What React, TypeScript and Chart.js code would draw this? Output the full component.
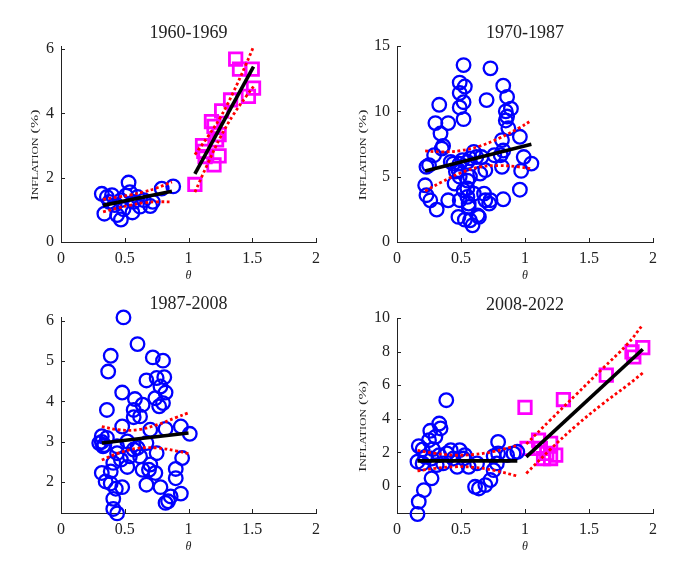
import { useEffect, useRef } from "react";
import { Chart, registerables } from "chart.js";

Chart.register(...registerables);

type Pt = [number, number];

const SERIF = "'Liberation Serif', 'DejaVu Serif', serif";
const INK = "#222222";

// theta axis, shared by all four panels
const thetaTicks = [0, 0.5, 1, 1.5, 2];

// 1960-1969
const p1Circles: Pt[] = [
  [0.32, 1.5], [0.34, 0.88], [0.36, 1.4], [0.38, 1.25], [0.4, 1.46], [0.42, 1.15],
  [0.44, 0.84], [0.47, 0.7], [0.47, 1.3], [0.49, 1.02], [0.51, 1.45], [0.53, 1.85],
  [0.54, 1.55], [0.56, 0.92], [0.57, 1.25], [0.6, 1.4], [0.62, 1.1], [0.65, 1.3],
  [0.7, 1.12], [0.72, 1.25], [0.79, 1.66], [0.88, 1.73],
];
const p1Squares: Pt[] = [
  [1.05, 1.79], [1.11, 3.0], [1.12, 2.82], [1.13, 2.66], [1.18, 3.75], [1.2, 3.6],
  [1.2, 2.4], [1.22, 3.18], [1.24, 3.34], [1.24, 2.68], [1.26, 4.08], [1.33, 4.42],
  [1.37, 5.69], [1.4, 5.38], [1.47, 4.53], [1.5, 5.38], [1.51, 4.79],
];
const p1FitLow: Pt[] = [[0.33, 1.14], [0.87, 1.58]];
const p1UpperLow: Pt[] = [[0.33, 1.33], [0.45, 1.4], [0.55, 1.47], [0.65, 1.56], [0.75, 1.68], [0.87, 1.87]];
const p1LowerLow: Pt[] = [[0.33, 0.94], [0.45, 1.06], [0.55, 1.15], [0.65, 1.22], [0.75, 1.25], [0.87, 1.25]];
const p1FitHigh: Pt[] = [[1.05, 2.12], [1.51, 5.46]];
const p1UpperHigh: Pt[] = [[1.05, 2.72], [1.15, 3.27], [1.25, 3.88], [1.35, 4.65], [1.45, 5.52], [1.51, 6.08]];
const p1LowerHigh: Pt[] = [[1.05, 1.55], [1.15, 2.43], [1.25, 3.26], [1.35, 3.95], [1.45, 4.52], [1.51, 4.84]];
const p1YTicks = [0, 2, 4, 6];

// 1970-1987
const p2Circles: Pt[] = [
  [0.52, 13.54], [0.73, 13.29], [0.49, 12.2], [0.53, 11.9], [0.83, 11.96], [0.49, 11.4],
  [0.86, 11.1], [0.52, 10.7], [0.7, 10.86], [0.33, 10.5], [0.49, 10.3], [0.89, 10.2],
  [0.85, 10.0], [0.86, 9.6], [0.85, 9.3], [0.52, 9.4], [0.3, 9.1], [0.4, 9.1],
  [0.34, 8.3], [0.87, 8.7], [0.96, 8.05], [0.82, 7.8], [0.35, 7.15], [0.36, 7.35],
  [0.29, 6.64], [0.6, 6.9], [0.66, 6.5], [0.76, 6.64], [0.83, 7.0], [0.99, 6.5],
  [1.05, 6.0], [0.42, 6.13], [0.49, 6.0], [0.23, 5.75], [0.69, 5.5], [0.82, 5.75],
  [0.97, 5.44], [0.46, 5.4], [0.45, 4.47], [0.22, 4.34], [0.55, 4.7], [0.55, 4.1],
  [0.96, 4.0], [0.23, 3.58], [0.26, 3.19], [0.4, 3.19], [0.55, 3.45], [0.56, 2.94],
  [0.68, 3.7], [0.69, 3.19], [0.72, 2.94], [0.83, 3.27], [0.31, 2.48], [0.63, 2.04],
  [0.53, 1.71], [0.57, 1.66], [0.59, 1.28], [0.51, 6.26], [0.57, 6.4], [0.49, 5.0],
  [0.57, 5.0], [0.52, 3.96], [0.6, 3.7], [0.49, 3.2], [0.44, 6.0], [0.48, 5.5],
  [0.55, 6.13], [0.62, 6.5], [0.65, 5.24], [0.56, 2.68], [0.48, 1.92], [0.64, 1.92],
  [0.73, 3.2], [0.81, 6.64], [0.25, 5.88],
];
const p2Fit: Pt[] = [[0.22, 5.44], [1.05, 7.49]];
const p2Upper: Pt[] = [[0.22, 6.97], [0.35, 6.9], [0.5, 7.0], [0.65, 7.35], [0.8, 7.95], [0.95, 8.7], [1.05, 9.3]];
const p2Lower: Pt[] = [[0.22, 3.9], [0.35, 4.6], [0.5, 5.3], [0.65, 5.75], [0.8, 5.85], [0.95, 5.75], [1.05, 5.6]];
const p2YTicks = [0, 5, 10, 15];

// 1987-2008
const p3Circles: Pt[] = [
  [0.49, 6.08], [0.6, 5.42], [0.39, 5.13], [0.72, 5.09], [0.8, 5.01], [0.37, 4.74],
  [0.67, 4.52], [0.75, 4.58], [0.81, 4.6], [0.78, 4.37], [0.48, 4.22], [0.82, 4.22],
  [0.58, 4.06], [0.64, 3.92], [0.74, 4.08], [0.8, 3.96], [0.77, 3.88], [0.36, 3.79],
  [0.57, 3.79], [0.57, 3.61], [0.62, 3.63], [0.48, 3.38], [0.94, 3.38], [1.01, 3.2],
  [0.7, 3.3], [0.82, 3.32], [0.32, 3.14], [0.36, 3.1], [0.33, 2.89], [0.44, 2.89],
  [0.52, 3.01], [0.6, 2.85], [0.67, 2.97], [0.62, 2.64], [0.47, 2.56], [0.52, 2.38],
  [0.64, 2.31], [0.69, 2.31], [0.7, 2.44], [0.74, 2.23], [0.95, 2.6], [0.9, 2.33],
  [0.32, 2.23], [0.39, 2.27], [0.35, 2.02], [0.39, 1.97], [0.43, 1.84], [0.48, 1.88],
  [0.67, 1.94], [0.9, 2.1], [0.78, 1.88], [0.41, 1.59], [0.86, 1.65], [0.94, 1.72],
  [0.84, 1.53], [0.82, 1.49], [0.41, 1.34], [0.44, 1.23], [0.57, 2.81], [0.54, 2.64],
  [0.44, 2.72], [0.3, 2.97], [0.75, 2.72], [0.41, 2.48], [0.32, 3.0], [0.34, 2.92],
];
const p3Fit: Pt[] = [[0.32, 2.97], [1.0, 3.22]];
const p3Upper: Pt[] = [[0.32, 3.38], [0.45, 3.3], [0.6, 3.3], [0.75, 3.42], [0.9, 3.6], [1.0, 3.72]];
const p3Lower: Pt[] = [[0.32, 2.55], [0.45, 2.72], [0.6, 2.84], [0.75, 2.85], [0.9, 2.78], [1.0, 2.71]];
const p3YTicks = [2, 3, 4, 5, 6];

// 2008-2022
const p4Circles: Pt[] = [
  [0.385, 5.11], [0.16, -1.66], [0.17, -0.93], [0.21, -0.24], [0.27, 0.46], [0.16, 1.45],
  [0.17, 2.38], [0.2, 2.18], [0.25, 2.73], [0.26, 3.29], [0.33, 3.72], [0.34, 3.43],
  [0.3, 2.93], [0.22, 1.74], [0.27, 1.64], [0.33, 1.84], [0.36, 1.35], [0.39, 1.94],
  [0.47, 1.15], [0.49, 2.14], [0.53, 1.84], [0.56, 1.15], [0.625, 1.35], [0.61, -0.04],
  [0.64, -0.14], [0.69, 0.06], [0.73, 0.36], [0.755, 0.95], [0.78, 1.35], [0.79, 2.63],
  [0.755, 1.78], [0.79, 1.94], [0.86, 1.84], [0.91, 1.94], [0.94, 2.04], [0.44, 1.64],
  [0.42, 2.14], [0.2, 1.35], [0.52, 1.64], [0.31, 1.25], [0.28, 2.2],
];
const p4Squares: Pt[] = [
  [1.0, 4.68], [1.3, 5.15], [1.635, 6.6], [1.836, 7.98], [1.85, 7.68], [1.92, 8.24],
  [1.106, 2.73], [1.016, 2.24], [1.2, 2.54], [1.17, 1.94], [1.24, 1.84], [1.145, 1.64],
  [1.2, 1.64], [1.12, 2.24],
];
const p4FitLow: Pt[] = [[0.16, 1.5], [0.94, 1.5]];
const p4UpperLow: Pt[] = [[0.16, 2.12], [0.3, 1.95], [0.45, 1.84], [0.6, 1.88], [0.75, 2.05], [0.94, 2.42]];
const p4LowerLow: Pt[] = [[0.16, 0.9], [0.3, 1.06], [0.45, 1.15], [0.6, 1.12], [0.75, 0.95], [0.94, 0.6]];
const p4FitHigh: Pt[] = [[1.01, 1.74], [1.92, 8.14]];
const p4UpperHigh: Pt[] = [[1.01, 2.5], [1.2, 3.95], [1.4, 5.45], [1.6, 6.95], [1.8, 8.45], [1.92, 9.6]];
const p4LowerHigh: Pt[] = [[1.01, 0.75], [1.2, 2.2], [1.4, 3.6], [1.6, 4.85], [1.8, 6.0], [1.92, 6.73]];
const p4YTicks = [0, 2, 4, 6, 8, 10];

interface PanelProps {
  title: string;
  circles: Pt[];
  squares: Pt[];
  fits: Pt[][];
  bands: Pt[][];
  yMin: number;
  yMax: number;
  yTicks: number[];
  yLabel: boolean;
  left: number;
  top: number;
  width: number;
  height: number;
  pad: { left: number; top: number; right: number; bottom: number };
}

const toXY = (pts: Pt[]) => pts.map(([x, y]) => ({ x, y }));

// y label is set in small caps and drawn stretched, as in the figure
const yLabelParts: [string, number][] = [["I", 10], ["NFLATION", 7.4], [" (%)", 10]];

const Panel = (p: PanelProps) => {
  const canvasRef = useRef<HTMLCanvasElement>(null);

  useEffect(() => {
    if (!canvasRef.current) return;

    const decor = {
      id: "decor",
      afterDraw(chart: Chart) {
        const { ctx, chartArea: a, scales } = chart;
        ctx.save();
        // inward tick marks
        ctx.strokeStyle = INK;
        ctx.lineWidth = 1;
        ctx.beginPath();
        thetaTicks.forEach((v) => {
          const px = Math.round(scales.x.getPixelForValue(v)) + 0.5;
          ctx.moveTo(px, a.bottom);
          ctx.lineTo(px, a.bottom - 4);
        });
        p.yTicks.forEach((v) => {
          const py = Math.round(scales.y.getPixelForValue(v)) + 0.5;
          ctx.moveTo(a.left, py);
          ctx.lineTo(a.left + 4, py);
        });
        ctx.stroke();

        const cx = (a.left + a.right) / 2;
        ctx.fillStyle = INK;
        ctx.textAlign = "center";
        ctx.textBaseline = "middle";
        ctx.font = `18px ${SERIF}`;
        ctx.fillText(p.title, cx, a.top - 13);
        ctx.font = `italic 12px ${SERIF}`;
        ctx.fillText("θ", cx, a.bottom + 34);

        if (p.yLabel) {
          ctx.font = `16px ${SERIF}`;
          const tw = Math.max(...p.yTicks.map((v) => ctx.measureText(String(v)).width));
          const lx = a.left - 7 - tw - 11;
          const ly = (a.top + a.bottom) / 2 + 11;
          const widths = yLabelParts.map(([t, s]) => {
            ctx.font = `${s}px ${SERIF}`;
            return ctx.measureText(t).width;
          });
          const total = widths.reduce((s, w) => s + w, 0);
          ctx.translate(lx, ly);
          ctx.rotate(-Math.PI / 2);
          ctx.scale(1.6, 1);
          ctx.textAlign = "left";
          ctx.textBaseline = "alphabetic";
          let x0 = -total / 2;
          yLabelParts.forEach(([t, s], i) => {
            ctx.font = `${s}px ${SERIF}`;
            ctx.fillText(t, x0, 3.4);
            x0 += widths[i];
          });
        }
        ctx.restore();
      },
    };

    const chart = new Chart(canvasRef.current, {
      type: "scatter",
      data: {
        datasets: [
          ...p.fits.map((f) => ({
            data: toXY(f),
            showLine: true,
            borderColor: "#000000",
            borderWidth: 3.6,
            pointRadius: 0,
            order: 0,
          })),
          ...p.bands.map((b) => ({
            data: toXY(b),
            showLine: true,
            borderColor: "#ff0000",
            borderWidth: 2.8,
            borderDash: [2.8, 2.6],
            pointRadius: 0,
            tension: 0.4,
            order: 1,
          })),
          {
            data: toXY(p.circles),
            pointStyle: "circle",
            pointRadius: 6.8,
            pointBorderWidth: 2.3,
            pointBorderColor: "#0000ff",
            pointBackgroundColor: "rgba(0,0,0,0)",
            clip: false,
            order: 2,
          },
          {
            data: toXY(p.squares),
            pointStyle: "rect",
            pointRadius: 8.8,
            pointBorderWidth: 2.8,
            pointBorderColor: "#ff00ff",
            pointBackgroundColor: "rgba(0,0,0,0)",
            clip: false,
            order: 2,
          },
        ],
      },
      options: {
        responsive: false,
        animation: false,
        events: [],
        layout: { padding: p.pad },
        plugins: {
          legend: { display: false },
          tooltip: { enabled: false },
          title: { display: false },
        },
        scales: {
          x: {
            type: "linear",
            min: 0,
            max: 2,
            grid: { display: false, drawTicks: false },
            border: { display: true, color: INK, width: 1 },
            ticks: {
              color: INK,
              padding: 7,
              font: { family: SERIF, size: 16 },
              callback: (v) => String(v),
            },
            afterBuildTicks: (s) => {
              s.ticks = thetaTicks.map((value) => ({ value }));
            },
            afterFit: (s) => {
              s.height = 30;
            },
          },
          y: {
            type: "linear",
            min: p.yMin,
            max: p.yMax,
            grid: { display: false, drawTicks: false },
            border: { display: true, color: INK, width: 1 },
            ticks: {
              color: INK,
              padding: 7,
              font: { family: SERIF, size: 16 },
              callback: (v) => String(v),
            },
            afterBuildTicks: (s) => {
              s.ticks = p.yTicks.map((value) => ({ value }));
            },
            afterFit: (s) => {
              s.width = 50;
            },
          },
        },
      },
      plugins: [decor],
    });

    return () => {
      chart.destroy();
    };
  }, [p]);

  return (
    <canvas
      ref={canvasRef}
      width={p.width}
      height={p.height}
      style={{ position: "absolute", left: p.left, top: p.top, width: p.width, height: p.height }}
    />
  );
};

const panels: PanelProps[] = [
  {
    title: "1960-1969",
    circles: p1Circles,
    squares: p1Squares,
    fits: [p1FitLow, p1FitHigh],
    bands: [p1UpperLow, p1LowerLow, p1UpperHigh, p1LowerHigh],
    yMin: 0,
    yMax: 6.1,
    yTicks: p1YTicks,
    yLabel: true,
    left: 0,
    top: 0,
    width: 340,
    height: 280,
    pad: { left: 11, top: 46, right: 24, bottom: 8 },
  },
  {
    title: "1970-1987",
    circles: p2Circles,
    squares: [],
    fits: [p2Fit],
    bands: [p2Upper, p2Lower],
    yMin: 0,
    yMax: 15,
    yTicks: p2YTicks,
    yLabel: true,
    left: 340,
    top: 0,
    width: 340,
    height: 280,
    pad: { left: 7, top: 46, right: 27, bottom: 8 },
  },
  {
    title: "1987-2008",
    circles: p3Circles,
    squares: [],
    fits: [p3Fit],
    bands: [p3Upper, p3Lower],
    yMin: 1.24,
    yMax: 6.09,
    yTicks: p3YTicks,
    yLabel: false,
    left: 0,
    top: 280,
    width: 340,
    height: 281,
    pad: { left: 11, top: 37, right: 24, bottom: 18 },
  },
  {
    title: "2008-2022",
    circles: p4Circles,
    squares: p4Squares,
    fits: [p4FitLow, p4FitHigh],
    bands: [p4UpperLow, p4LowerLow, p4UpperHigh, p4LowerHigh],
    yMin: -1.6,
    yMax: 10,
    yTicks: p4YTicks,
    yLabel: true,
    left: 340,
    top: 280,
    width: 340,
    height: 281,
    pad: { left: 7, top: 38, right: 27, bottom: 18 },
  },
];

export default function App() {
  return (
    <div style={{ position: "absolute", left: 0, top: 0, width: 680, height: 561, background: "#ffffff" }}>
      {panels.map((p) => (
        <Panel key={p.title} {...p} />
      ))}
    </div>
  );
}
